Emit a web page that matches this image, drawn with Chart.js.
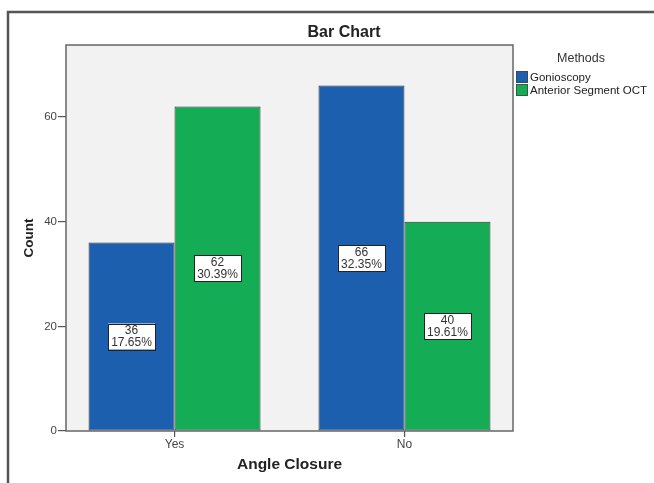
<!DOCTYPE html>
<html>
<head>
<meta charset="utf-8">
<script src="https://cdn.jsdelivr.net/npm/chart.js@4.4.1/dist/chart.umd.min.js"></script>
<style>
html,body{margin:0;padding:0;background:#fff;}
#wrap{width:654px;height:483px;position:relative;}
</style>
</head>
<body>
<div id="wrap"><canvas id="c" width="654" height="483"></canvas></div>
<script>
// ---- data ----
const categories = ['Yes', 'No'];
const seriesNames = ['Gonioscopy', 'Anterior Segment OCT'];
const gonioscopy = [36, 66];
const asOct = [62, 40];
const gonioscopyPct = ['17.65%', '32.35%'];
const asOctPct = ['30.39%', '19.61%'];
const yTicks = [0, 20, 40, 60];
const chartTitle = 'Bar Chart';
const legendTitle = 'Methods';
const xTitle = 'Angle Closure';
const yTitle = 'Count';

const FONT = "Arial, 'Liberation Sans', sans-serif";
const BLUE = '#1b5fae';
const GREEN = '#14ac54';

const decor = {
  id: 'decor',
  beforeDraw(chart) {
    const ctx = chart.ctx;
    const a = chart.chartArea;
    ctx.save();
    ctx.fillStyle = '#fff';
    ctx.fillRect(0, 0, chart.width, chart.height);
    ctx.strokeStyle = '#555';
    ctx.lineWidth = 2.5;
    ctx.beginPath();
    ctx.moveTo(8, chart.height + 2);
    ctx.lineTo(8, 12);
    ctx.lineTo(chart.width + 2, 12);
    ctx.stroke();
    ctx.fillStyle = '#f2f2f2';
    ctx.fillRect(a.left, a.top, a.right - a.left, a.bottom - a.top);
    ctx.restore();
  },
  afterDatasetsDraw(chart) {
    const ctx = chart.ctx;
    const a = chart.chartArea;
    ctx.save();
    ctx.strokeStyle = '#666';
    ctx.lineWidth = 1.5;
    ctx.strokeRect(a.left, a.top, a.right - a.left, a.bottom - a.top);
    const pcts = [gonioscopyPct, asOctPct];
    chart.data.datasets.forEach((ds, di) => {
      const meta = chart.getDatasetMeta(di);
      meta.data.forEach((bar, i) => {
        const cx = bar.x;
        const cy = (bar.y + bar.base) / 2;
        const w = 47, h = 26;
        ctx.fillStyle = '#fff';
        ctx.fillRect(cx - w / 2, cy - h / 2, w, h);
        ctx.strokeStyle = '#222';
        ctx.lineWidth = 1;
        ctx.strokeRect(Math.round(cx - w / 2) + 0.5, Math.round(cy - h / 2) + 0.5, w, h);
        ctx.fillStyle = '#333';
        ctx.font = '12px ' + FONT;
        ctx.textAlign = 'center';
        ctx.textBaseline = 'middle';
        ctx.fillText(String(ds.data[i].y), cx, cy - 5.5);
        ctx.fillText(pcts[di][i], cx, cy + 6.5);
      });
    });
    ctx.fillStyle = '#222';
    ctx.font = 'bold 16px ' + FONT;
    ctx.textAlign = 'center';
    ctx.textBaseline = 'middle';
    ctx.fillText(chartTitle, 344, 33);
    ctx.fillStyle = '#333';
    ctx.font = '12.5px ' + FONT;
    ctx.fillText(legendTitle, 581, 59);
    ctx.font = '11.5px ' + FONT;
    ctx.textAlign = 'left';
    chart.data.datasets.forEach((ds, di) => {
      const y = 71 + di * 13;
      ctx.fillStyle = ds.backgroundColor;
      ctx.fillRect(516, y, 12, 12);
      ctx.strokeStyle = '#444';
      ctx.lineWidth = 0.8;
      ctx.strokeRect(516.5, y + 0.5, 11, 11);
      ctx.fillStyle = '#222';
      ctx.fillText(ds.label, 530, y + 6.5);
    });
    ctx.restore();
  }
};

const mk = (vals) => categories.map((c, i) => ({ x: i, y: vals[i] }));

new Chart(document.getElementById('c'), {
  type: 'bar',
  data: {
    datasets: [
      { label: seriesNames[0], data: mk(gonioscopy), backgroundColor: BLUE, borderColor: '#333', borderWidth: 1, borderSkipped: false },
      { label: seriesNames[1], data: mk(asOct), backgroundColor: GREEN, borderColor: '#333', borderWidth: 1, borderSkipped: false }
    ]
  },
  options: {
    responsive: false,
    animation: false,
    devicePixelRatio: 1,
    layout: { padding: { left: 0, right: 141, top: 45, bottom: 0 } },
    categoryPercentage: 0.748,
    barPercentage: 1.0,
    plugins: {
      legend: { display: false },
      title: { display: false },
      tooltip: { enabled: false }
    },
    scales: {
      x: {
        type: 'linear',
        offset: false,
        min: -0.472,
        max: 1.472,
        afterBuildTicks(scale) { scale.ticks = categories.map((c, i) => ({ value: i })); },
        afterFit(scale) { scale.height = 52; },
        grid: { display: true, offset: false, drawOnChartArea: false, drawTicks: true, tickLength: 6, color: '#555', lineWidth: 1.2 },
        border: { display: false },
        ticks: {
          padding: 0,
          autoSkip: false,
          maxRotation: 0,
          color: '#444',
          font: { family: FONT, size: 12 },
          callback: (v) => categories[v] !== undefined ? categories[v] : ''
        },
        title: { display: true, text: xTitle, color: '#222', font: { family: FONT, size: 15.5, weight: 'bold' }, padding: { top: 0, bottom: 9 } }
      },
      y: {
        min: 0,
        max: 73.76,
        afterBuildTicks(scale) { scale.ticks = yTicks.map(v => ({ value: v })); },
        afterFit(scale) { scale.width = 66; },
        grid: { display: true, drawOnChartArea: false, drawTicks: true, tickLength: 8, color: '#555', lineWidth: 1.2 },
        border: { display: false },
        ticks: { padding: 1, color: '#444', font: { family: FONT, size: 11.5 } },
        title: { display: true, text: yTitle, color: '#222', font: { family: FONT, size: 13.5, weight: 'bold' }, padding: { top: 21, bottom: 0 } }
      }
    }
  },
  plugins: [decor]
});
</script>
</body>
</html>
